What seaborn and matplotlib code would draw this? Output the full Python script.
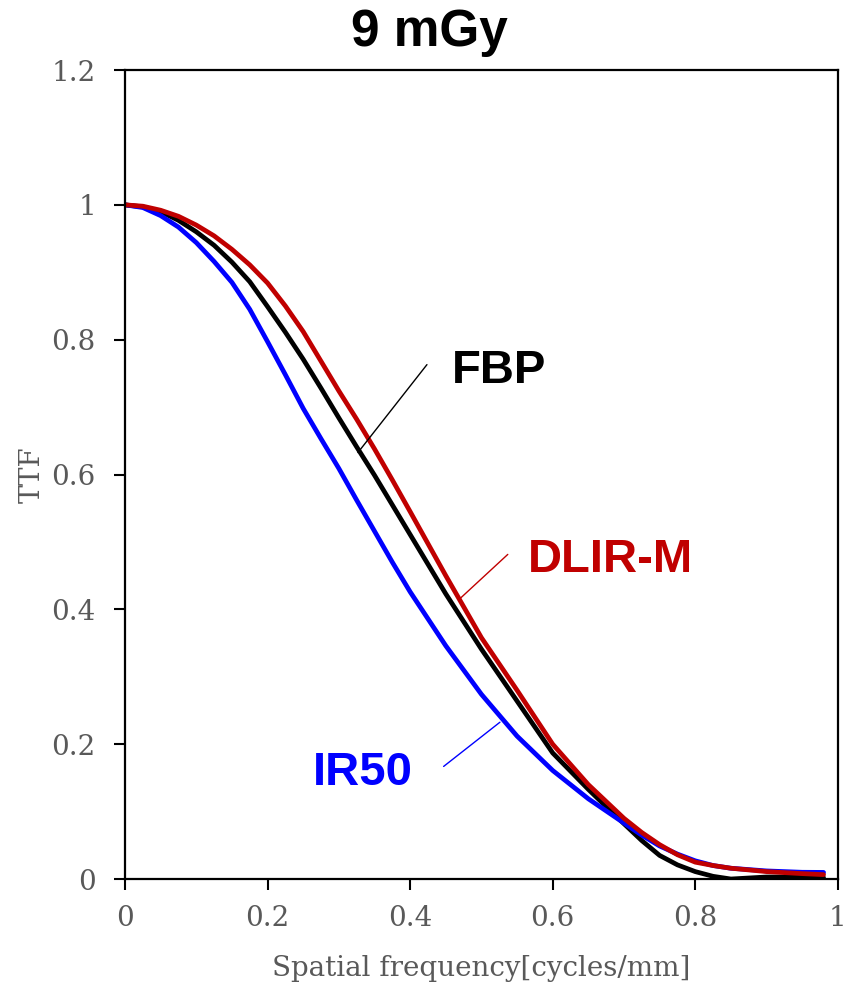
import numpy as np
import pandas as pd
import matplotlib
matplotlib.use("Agg")
import matplotlib.pyplot as plt
import seaborn as sns

# ---- data ----
freq = [0.0, 0.025, 0.05, 0.075, 0.1, 0.125, 0.15, 0.175, 0.2, 0.225, 0.25, 0.275,
        0.3, 0.325, 0.35, 0.375, 0.4, 0.45, 0.5, 0.55, 0.6, 0.65, 0.7, 0.725,
        0.75, 0.775, 0.8, 0.825, 0.85, 0.9, 0.95, 0.98]
ttf_fbp = [1.0, 0.997, 0.99, 0.977, 0.96, 0.94, 0.915, 0.886, 0.849, 0.811, 0.771, 0.728,
           0.684, 0.641, 0.599, 0.555, 0.511, 0.423, 0.341, 0.264, 0.187, 0.133, 0.082, 0.057,
           0.035, 0.021, 0.011, 0.004, 0.0, 0.003, 0.003, 0.002]
ttf_ir50 = [1.0, 0.996, 0.984, 0.967, 0.944, 0.916, 0.885, 0.845, 0.797, 0.748, 0.698, 0.653,
            0.609, 0.562, 0.516, 0.470, 0.426, 0.346, 0.274, 0.212, 0.161, 0.119, 0.083, 0.065,
            0.049, 0.037, 0.027, 0.020, 0.016, 0.012, 0.010, 0.0098]
ttf_dlir = [1.0, 0.998, 0.992, 0.983, 0.97, 0.954, 0.934, 0.911, 0.884, 0.85, 0.812, 0.768,
            0.724, 0.682, 0.638, 0.592, 0.545, 0.45, 0.358, 0.28, 0.2, 0.14, 0.09, 0.069,
            0.051, 0.036, 0.025, 0.02, 0.016, 0.011, 0.008, 0.0065]
series_names = ["FBP", "IR50", "DLIR-M"]
series_colors = ["#000000", "#0000FF", "#C00000"]
xticks = [0, 0.2, 0.4, 0.6, 0.8, 1.0]
xtick_labels = ["0", "0.2", "0.4", "0.6", "0.8", "1"]
yticks = [0, 0.2, 0.4, 0.6, 0.8, 1.0, 1.2]
ytick_labels = ["0", "0.2", "0.4", "0.6", "0.8", "1", "1.2"]
title = "9 mGy"
xlabel = "Spatial frequency[cycles/mm]"
ylabel = "TTF"

df = pd.concat([
    pd.DataFrame({"freq": freq, "ttf": ttf_fbp, "method": "FBP"}),
    pd.DataFrame({"freq": freq, "ttf": ttf_ir50, "method": "IR50"}),
    pd.DataFrame({"freq": freq, "ttf": ttf_dlir, "method": "DLIR-M"}),
])

sns.set_style("ticks")
plt.rcParams["font.family"] = ["DejaVu Serif"]

fig = plt.figure(figsize=(8.48, 9.86), dpi=100)
ax = fig.add_axes([0.1474, 0.1085, 0.8406, 0.8205])

sns.lineplot(data=df, x="freq", y="ttf", hue="method", hue_order=series_names,
             palette=series_colors, linewidth=3.4, legend=False, ax=ax,
             sort=False)

ax.set_xlim(0, 1)
ax.set_ylim(0, 1.2)
ax.set_xticks(xticks)
ax.set_xticklabels(xtick_labels)
ax.set_yticks(yticks)
ax.set_yticklabels(ytick_labels)

for s in ["left", "right", "top", "bottom"]:
    ax.spines[s].set_visible(True)
    ax.spines[s].set_color("black")
    ax.spines[s].set_linewidth(1.6)

ax.tick_params(axis="both", direction="out", length=8, width=1.5, color="black",
               labelsize=20, labelcolor="#595959")
ax.tick_params(axis="y", pad=13)
ax.tick_params(axis="x", pad=11)

ax.set_xlabel(xlabel, fontsize=20, color="#595959", labelpad=16)
ax.set_ylabel(ylabel, fontsize=20, color="#595959", labelpad=4)

fig.text(0.507, 0.967, title, ha="center", va="center", fontsize=37,
         fontweight="bold", family=["Liberation Sans", "DejaVu Sans"], color="black")

# annotations (label text + leader line)
ann = [
    ("FBP", "#000000", (0.4586, 0.754), (0.4236, 0.763), (0.3268, 0.6326)),
    ("DLIR-M", "#C00000", (0.565, 0.4726), (0.537, 0.4815), (0.470, 0.416)),
    ("IR50", "#0000FF", (0.2637, 0.157), (0.447, 0.167), (0.526, 0.2326)),
]
for label, col, tpos, lstart, lend in ann:
    ax.text(tpos[0], tpos[1], label, color=col, fontsize=34, fontweight="bold",
            family=["Liberation Sans", "DejaVu Sans"], ha="left", va="center")
    ax.annotate("", xy=lend, xytext=lstart,
                arrowprops=dict(arrowstyle="-", color=col, lw=1.0,
                                shrinkA=0, shrinkB=0))

fig.savefig("out.png", dpi=100)
